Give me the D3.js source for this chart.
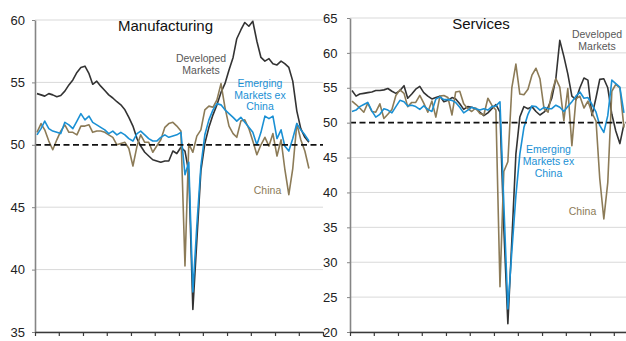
<!DOCTYPE html>
<html>
<head>
<meta charset="utf-8">
<script src="https://cdn.jsdelivr.net/npm/d3@7"></script>
<style>
  html, body { margin: 0; padding: 0; background: #fff; }
  svg { display: block; font-family: "Liberation Sans", Arial, sans-serif; }
</style>
</head>
<body>
<svg id="chart" width="626" height="341"></svg>
<script>
// Monthly PMI readings, Jan 2017 – Sep 2022
const firstMonth = new Date(2017, 0, 1);
const lastMonth = new Date(2022, 8, 1);

// Manufacturing PMI
const mfgDeveloped = [
  54.1, 54.0, 53.9, 54.1, 54.0, 53.85, 53.95, 54.3, 54.8, 55.2, 55.8, 56.2,
  56.3, 55.7, 54.85, 55.1, 54.7, 54.35, 54.0, 53.75, 53.45, 53.2, 52.8, 52.2,
  51.5, 50.5, 49.9, 49.4, 49.1, 48.8, 48.7, 48.6, 48.7, 48.7, 49.5, 49.3,
  49.8, 49.5, 47.8, 36.8, 42.3, 47.9, 50.1, 51.4, 52.4, 53.2, 54.2, 54.9,
  56.0, 57.0, 58.5, 59.2, 59.8, 59.5, 59.9, 58.3, 57.0, 56.7, 56.9, 56.5,
  56.4, 56.7, 56.5, 56.2, 55.1, 52.7, 51.3, 50.6, 50.2
];
const mfgEmergingExChina = [
  50.8, 51.3, 51.9, 51.3, 51.1, 51.0, 50.9, 51.8, 51.6, 51.3, 51.9, 52.5,
  52.0, 52.3, 51.8, 51.6, 51.4, 51.2, 50.9, 51.1, 50.8, 51.0, 50.8, 50.5,
  50.3, 50.9, 51.1, 50.8, 50.5, 50.3, 50.3, 50.6, 50.8, 50.6, 50.7, 50.8,
  51.0, 47.6, 48.6, 38.2, 43.5, 48.3, 50.8, 52.0, 52.8, 53.3, 53.2, 52.8,
  52.5, 52.2, 51.9, 52.2, 51.8, 51.4, 51.0, 50.0, 51.0, 52.3, 52.1, 52.3,
  50.5, 51.2, 49.9, 49.5, 50.5, 51.7, 51.2, 50.8, 50.3
];
const mfgChina = [
  51.0, 51.7, 51.2, 50.3, 49.6, 50.4, 51.1, 51.6, 51.0, 51.0, 50.8, 51.5,
  51.5, 51.6, 51.0, 51.1, 51.1, 51.0, 50.8, 50.6, 50.0, 50.1, 50.2, 49.7,
  48.3, 49.9, 50.8, 50.2, 50.2, 49.4, 49.9, 50.4, 51.4, 51.7, 51.8, 51.5,
  51.1, 40.3, 50.1, 49.4, 50.7, 51.2, 52.8, 53.1, 53.0, 53.6, 54.9, 53.0,
  51.5, 50.9, 50.6, 51.9, 52.0, 51.3, 50.3, 49.2, 50.0, 50.6, 49.9, 50.9,
  49.1, 50.4, 48.1, 46.0, 48.1, 51.7, 50.4, 49.5, 48.1
];

// Services PMI
const svcDeveloped = [
  54.6, 53.8, 54.1, 54.2, 54.3, 54.4, 54.6, 54.6, 54.7, 54.9, 54.5, 54.2,
  54.6, 55.3, 53.5, 54.1, 54.8, 55.2, 54.3, 53.8, 53.4, 53.6, 53.8, 53.0,
  53.2, 53.6, 53.4, 52.7, 51.9, 52.3, 52.2, 52.0, 51.5, 51.0, 51.4, 52.0,
  52.6, 51.5, 35.0, 21.2, 33.0, 45.5, 50.8, 52.3, 52.0, 52.3, 51.6, 51.1,
  51.5, 52.2, 53.5, 56.3, 61.8, 59.5, 57.0, 53.8, 53.3, 55.0, 56.4, 56.1,
  51.0, 53.6, 56.2, 56.3, 55.0, 51.2, 48.8, 47.0, 49.8
];
const svcEmergingExChina = [
  51.6, 51.8, 52.3, 52.6, 52.9, 51.7, 50.8, 51.2, 52.0, 51.8, 51.4, 52.3,
  53.2, 53.0, 52.4, 52.5, 52.3, 51.9, 52.4, 51.9, 51.6, 53.4, 53.7, 53.3,
  53.3, 53.2, 52.9, 52.2, 51.4, 51.8, 52.2, 52.0, 51.8, 52.0, 51.8, 52.3,
  52.4, 53.0, 38.5, 23.3, 31.5, 39.5, 45.5, 49.3, 51.2, 52.4, 52.3, 51.8,
  52.2, 52.0, 52.0, 52.5, 52.2, 51.6, 52.3, 53.0, 53.8, 54.4, 53.5, 53.6,
  52.6, 51.5, 49.6, 48.6, 51.0, 56.1, 55.6, 55.1, 51.4
];
const svcChina = [
  53.1, 52.6, 52.1, 51.5, 52.8, 51.6, 51.5, 52.7, 50.6, 51.2, 51.9, 53.9,
  54.7, 54.2, 52.3, 52.9, 52.9, 53.9, 52.8, 51.5, 53.1, 50.8, 53.8, 53.9,
  53.6, 51.1, 54.4, 54.5, 52.7, 52.0, 51.6, 52.1, 51.3, 51.1, 53.5, 52.5,
  51.8, 26.5, 43.0, 44.4, 55.0, 58.4, 54.1, 54.0, 54.8, 56.8, 57.8, 56.3,
  52.0, 51.5, 54.3, 56.3, 55.1, 50.3, 54.9, 46.7, 53.4, 53.8, 52.1, 53.1,
  51.4, 50.2, 42.0, 36.2, 41.4, 54.5, 55.5, 55.0, 49.3
];

// Axis tick labels
const mfgTicks = [35, 40, 45, 50, 55, 60];
const svcTicks = [20, 25, 30, 35, 40, 45, 50, 55, 60, 65];

const colorDeveloped = "#333333";
const colorEmerging = "#1A90D4";
const colorChina = "#8C7B57";

const months = d3.timeMonths(firstMonth, d3.timeMonth.offset(lastMonth, 1));
const midMonth = m => new Date(m.getFullYear(), m.getMonth(), 16);
const axisStart = new Date(2017, 0, 1);
const axisEnd = new Date(2023, 0, 1);

const svg = d3.select("#chart");

function drawPanel(p) {
  const g = svg.append("g");
  const x = d3.scaleTime().domain([axisStart, axisEnd]).range([p.left, p.right]);
  const y = d3.scaleLinear().domain([p.ticks[0], p.ticks[p.ticks.length - 1]])
    .range([p.bottom, p.top]);

  // horizontal gridlines (50 is drawn as the dashed reference line instead)
  g.append("g").selectAll("line")
    .data(p.ticks.filter(v => v !== 50))
    .join("line")
    .attr("x1", p.left).attr("x2", p.right)
    .attr("y1", d => y(d)).attr("y2", d => y(d))
    .attr("stroke", "#d9d9d9").attr("stroke-width", 1);

  const line = d3.line()
    .x((d, i) => x(midMonth(months[i])))
    .y(d => y(d));

  p.series.forEach(s => {
    g.append("path")
      .datum(s.values)
      .attr("d", line)
      .attr("fill", "none")
      .attr("stroke", s.color)
      .attr("stroke-width", 1.6)
      .attr("stroke-linejoin", "round");
  });

  // 50 = expansion / contraction threshold
  g.append("line")
    .attr("x1", p.left).attr("x2", p.right)
    .attr("y1", y(50)).attr("y2", y(50))
    .attr("stroke", "#111").attr("stroke-width", 1.8)
    .attr("stroke-dasharray", "6,3.5");

  // y axis
  const ya = g.append("g")
    .attr("transform", `translate(${p.left},0)`)
    .call(d3.axisLeft(y).tickValues(p.ticks).tickSize(3).tickSizeOuter(0)
      .tickPadding(p.pad).tickFormat(d3.format("d")));
  ya.select(".domain").attr("stroke", "#858585").attr("stroke-width", 1.6);
  ya.selectAll(".tick line").attr("stroke", "#858585");
  ya.selectAll(".tick text").attr("font-size", 13).attr("fill", "#222")
    .attr("font-family", "Liberation Sans, Arial, sans-serif");

  // x axis: ticks every six months, no labels
  const xa = g.append("g")
    .attr("transform", `translate(0,${p.bottom})`)
    .call(d3.axisBottom(x).tickValues(d3.timeMonth.every(6).range(axisStart, d3.timeMonth.offset(axisEnd, 1)))
      .tickSize(4).tickSizeOuter(0).tickFormat(""));
  xa.select(".domain").attr("stroke", "#3a3a3a").attr("stroke-width", 1.4);
  xa.selectAll(".tick line").attr("stroke", "#3a3a3a").attr("stroke-width", 1.2);

  // title and series labels
  g.append("text")
    .attr("x", p.title.x).attr("y", p.title.y)
    .attr("text-anchor", "middle").attr("font-size", 15).attr("fill", "#111")
    .text(p.title.text);

  p.labels.forEach(l => {
    const t = g.append("text")
      .attr("text-anchor", "middle").attr("font-size", 10.5).attr("fill", l.color);
    l.lines.forEach((txt, i) => {
      t.append("tspan").attr("x", l.x).attr("y", l.y + i * 11.6).text(txt);
    });
  });
}

drawPanel({
  left: 35, right: 323, top: 20, bottom: 332, pad: 7,
  ticks: mfgTicks,
  series: [
    { values: mfgDeveloped, color: colorDeveloped },
    { values: mfgChina, color: colorChina },
    { values: mfgEmergingExChina, color: colorEmerging }
  ],
  title: { text: "Manufacturing", x: 165.5, y: 30.7 },
  labels: [
    { lines: ["Developed", "Markets"], x: 201, y: 62, color: "#595959" },
    { lines: ["Emerging", "Markets ex", "China"], x: 260, y: 87, color: colorEmerging },
    { lines: ["China"], x: 267.5, y: 194, color: colorChina }
  ]
});

drawPanel({
  left: 350, right: 638, top: 18, bottom: 332, pad: 9.5,
  ticks: svcTicks,
  series: [
    { values: svcDeveloped, color: colorDeveloped },
    { values: svcChina, color: colorChina },
    { values: svcEmergingExChina, color: colorEmerging }
  ],
  title: { text: "Services", x: 481, y: 28.7 },
  labels: [
    { lines: ["Developed", "Markets"], x: 597, y: 38.3, color: "#595959" },
    { lines: ["Emerging", "Markets ex", "China"], x: 548.5, y: 153.3, color: colorEmerging },
    { lines: ["China"], x: 582.5, y: 215, color: colorChina }
  ]
});
</script>
</body>
</html>
